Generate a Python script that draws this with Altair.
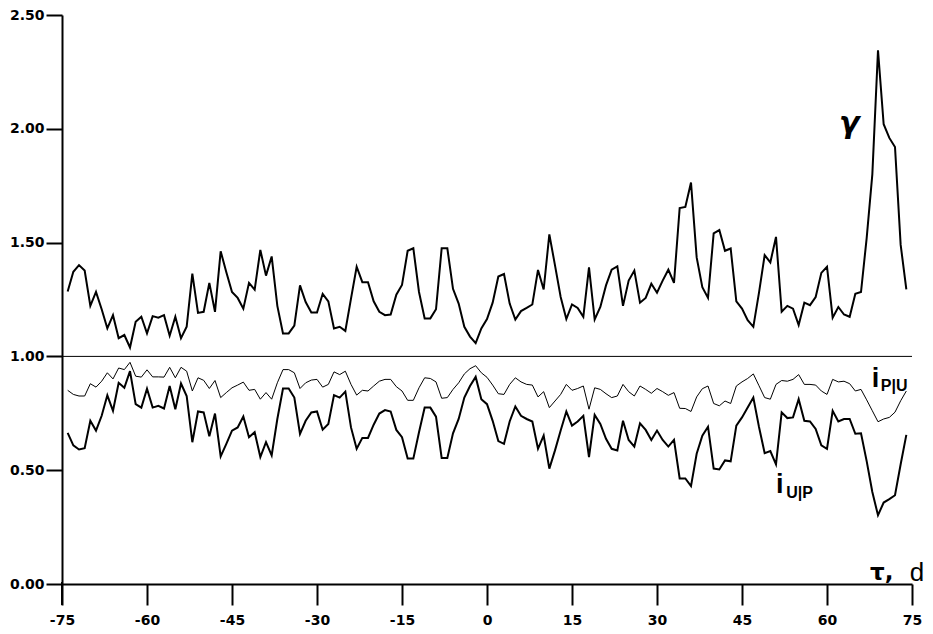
import altair as alt
import pandas as pd

days = list(range(-74, 75))

gamma = [
    1.285, 1.372, 1.401, 1.377, 1.222, 1.283, 1.207, 1.123, 1.181, 1.080,
    1.094, 1.039, 1.152, 1.174, 1.101, 1.177, 1.170, 1.181, 1.091, 1.174,
    1.080, 1.130, 1.364, 1.191, 1.196, 1.323, 1.196, 1.462, 1.370, 1.283,
    1.257, 1.210, 1.323, 1.293, 1.468, 1.355, 1.439, 1.222, 1.101, 1.101,
    1.135, 1.312, 1.239, 1.193, 1.193, 1.275, 1.242, 1.123, 1.130, 1.112,
    1.254, 1.394, 1.326, 1.326, 1.242, 1.196, 1.181, 1.184, 1.271, 1.314,
    1.464, 1.475, 1.283, 1.167, 1.167, 1.207, 1.475, 1.475, 1.297, 1.232,
    1.130, 1.087, 1.058, 1.123, 1.164, 1.236, 1.351, 1.362, 1.232, 1.162,
    1.199, 1.213, 1.228, 1.380, 1.294, 1.536, 1.400, 1.261, 1.164, 1.228,
    1.213, 1.174, 1.391, 1.162, 1.217, 1.312, 1.381, 1.396, 1.222, 1.333,
    1.377, 1.236, 1.257, 1.319, 1.280, 1.333, 1.381, 1.323, 1.652, 1.657,
    1.764, 1.435, 1.304, 1.257, 1.541, 1.555, 1.464, 1.474, 1.242, 1.210,
    1.159, 1.130, 1.280, 1.445, 1.413, 1.525, 1.196, 1.222, 1.210, 1.138,
    1.236, 1.225, 1.261, 1.367, 1.394, 1.170, 1.217, 1.184, 1.174, 1.275,
    1.283, 1.520, 1.800, 2.345, 2.020, 1.960, 1.920, 1.490, 1.295,
]

i_pu = [
    0.851, 0.833, 0.826, 0.826, 0.880, 0.865, 0.891, 0.928, 0.901, 0.949,
    0.942, 0.974, 0.913, 0.909, 0.941, 0.910, 0.910, 0.909, 0.952, 0.906,
    0.952, 0.935, 0.848, 0.906, 0.895, 0.859, 0.894, 0.819, 0.841, 0.862,
    0.874, 0.887, 0.851, 0.855, 0.812, 0.841, 0.812, 0.884, 0.942, 0.942,
    0.928, 0.859, 0.884, 0.896, 0.899, 0.865, 0.877, 0.932, 0.920, 0.935,
    0.877, 0.830, 0.851, 0.848, 0.870, 0.891, 0.899, 0.899, 0.867, 0.848,
    0.807, 0.807, 0.862, 0.906, 0.903, 0.888, 0.816, 0.819, 0.855, 0.884,
    0.923, 0.946, 0.959, 0.928, 0.908, 0.874, 0.836, 0.833, 0.877, 0.906,
    0.888, 0.877, 0.874, 0.822, 0.845, 0.775, 0.804, 0.833, 0.877, 0.851,
    0.859, 0.870, 0.768, 0.862, 0.855, 0.836, 0.819, 0.826, 0.877, 0.845,
    0.826, 0.870, 0.855, 0.838, 0.859, 0.845, 0.829, 0.841, 0.772, 0.771,
    0.758, 0.822, 0.858, 0.870, 0.793, 0.783, 0.804, 0.793, 0.870, 0.888,
    0.903, 0.923, 0.871, 0.819, 0.812, 0.877, 0.894, 0.891, 0.899, 0.920,
    0.877, 0.877, 0.874, 0.848, 0.833, 0.899, 0.888, 0.891, 0.880, 0.848,
    0.855, 0.809, 0.761, 0.713, 0.725, 0.732, 0.755, 0.805, 0.848,
]

i_up = [
    0.664, 0.609, 0.591, 0.597, 0.717, 0.674, 0.739, 0.829, 0.761, 0.884,
    0.862, 0.935, 0.790, 0.775, 0.858, 0.775, 0.783, 0.771, 0.870, 0.768,
    0.881, 0.826, 0.623, 0.758, 0.754, 0.649, 0.749, 0.561, 0.616, 0.674,
    0.688, 0.736, 0.645, 0.667, 0.558, 0.623, 0.565, 0.725, 0.859, 0.859,
    0.819, 0.659, 0.717, 0.754, 0.758, 0.678, 0.703, 0.830, 0.819, 0.845,
    0.688, 0.594, 0.642, 0.642, 0.700, 0.749, 0.764, 0.758, 0.677, 0.645,
    0.551, 0.551, 0.667, 0.775, 0.775, 0.735, 0.554, 0.554, 0.662, 0.725,
    0.819, 0.870, 0.910, 0.812, 0.790, 0.717, 0.628, 0.616, 0.714, 0.780,
    0.739, 0.725, 0.714, 0.594, 0.652, 0.507, 0.587, 0.674, 0.758, 0.696,
    0.714, 0.739, 0.558, 0.743, 0.703, 0.638, 0.594, 0.587, 0.717, 0.633,
    0.604, 0.706, 0.677, 0.633, 0.674, 0.633, 0.604, 0.633, 0.464, 0.464,
    0.430, 0.572, 0.652, 0.691, 0.507, 0.503, 0.543, 0.539, 0.696, 0.732,
    0.775, 0.819, 0.690, 0.575, 0.584, 0.526, 0.754, 0.729, 0.732, 0.812,
    0.717, 0.714, 0.681, 0.609, 0.594, 0.761, 0.714, 0.725, 0.725, 0.660,
    0.662, 0.540, 0.404, 0.302, 0.358, 0.373, 0.390, 0.526, 0.655,
]

x_ticks = list(range(-75, 76, 15))
y_ticks = [0.0, 0.5, 1.0, 1.5, 2.0, 2.5]

# annotation labels (text, x in days, y in value units)
labels_big = pd.DataFrame({
    "t": ["i", "i"],
    "x": [67.9, 51.0],
    "y": [0.865, 0.402],
})
labels_sub = pd.DataFrame({
    "t": ["P|U", "U|P"],
    "x": [69.5, 52.8],
    "y": [0.848, 0.380],
})

W, H = 850, 569
FONT = "DejaVu Sans"

df = pd.DataFrame({"d": days, "g": gamma, "pu": i_pu, "up": i_up})

xs = alt.Scale(domain=[-75, 75], nice=False, zero=False)
ys = alt.Scale(domain=[0, 2.5], nice=False, zero=False)

xaxis = alt.Axis(values=x_ticks, title=None, grid=False,
                 labelExpr="datum.value < 0 ? '-' + abs(datum.value) : '' + datum.value",
                 labelFont=FONT, labelFontWeight="bold", labelFontSize=14,
                 labelColor="black", labelFlush=False, labelPadding=8,
                 tickSize=21, tickWidth=2, tickColor="black",
                 domainWidth=2, domainColor="black", labelOverlap=False)
yaxis = alt.Axis(values=y_ticks, format=".2f", title=None, grid=False,
                 labelFont=FONT, labelFontWeight="bold", labelFontSize=14,
                 labelColor="black", labelPadding=2, labelOverlap=False,
                 tickSize=16, tickWidth=2, tickColor="black",
                 domainWidth=2, domainColor="black")

base = alt.Chart(df)

line_g = base.mark_line(color="black", strokeWidth=2).encode(
    x=alt.X("d:Q", scale=xs, axis=xaxis),
    y=alt.Y("g:Q", scale=ys, axis=yaxis),
)
line_pu = base.mark_line(color="black", strokeWidth=1).encode(
    x=alt.X("d:Q", scale=xs), y=alt.Y("pu:Q", scale=ys))
line_up = base.mark_line(color="black", strokeWidth=2).encode(
    x=alt.X("d:Q", scale=xs), y=alt.Y("up:Q", scale=ys))

one = alt.Chart(pd.DataFrame({"v": [1.0]})).mark_rule(
    color="black", strokeWidth=1).encode(y=alt.Y("v:Q", scale=ys))

yext = alt.Chart(pd.DataFrame({"v": [0.0]})).mark_rule(
    color="black", strokeWidth=2).encode(
    x=alt.value(0), y=alt.value(H - 2), y2=alt.value(H + 21))

t_big = alt.Chart(labels_big).mark_text(
    font="Liberation Sans", fontWeight="bold", fontSize=27, align="left",
    baseline="alphabetic", color="black").encode(
    x=alt.X("x:Q", scale=xs), y=alt.Y("y:Q", scale=ys), text="t:N")
t_sub = alt.Chart(labels_sub).mark_text(
    font="Liberation Sans", fontWeight="bold", fontSize=16, align="left",
    baseline="alphabetic", color="black").encode(
    x=alt.X("x:Q", scale=xs), y=alt.Y("y:Q", scale=ys), text="t:N")

t_gamma = alt.Chart(pd.DataFrame({"t": ["γ"], "x": [63.9], "y": [1.98]})).mark_text(
    font="DejaVu Sans", fontStyle="italic", fontWeight="bold", fontSize=30,
    align="center", baseline="alphabetic", color="black").encode(
    x=alt.X("x:Q", scale=xs), y=alt.Y("y:Q", scale=ys), text="t:N")

t_tau = alt.Chart(pd.DataFrame({"t": ["τ,"], "x": [67.6], "y": [0.0175]})).mark_text(
    font="DejaVu Sans", fontWeight="bold", fontSize=23,
    align="left", baseline="alphabetic", color="black").encode(
    x=alt.X("x:Q", scale=xs), y=alt.Y("y:Q", scale=ys), text="t:N")
t_d = alt.Chart(pd.DataFrame({"t": ["d"], "x": [74.6], "y": [0.013]})).mark_text(
    font="Liberation Sans", fontSize=26,
    align="left", baseline="alphabetic", color="black").encode(
    x=alt.X("x:Q", scale=xs), y=alt.Y("y:Q", scale=ys), text="t:N")

chart = alt.layer(
    one, line_pu, line_up, line_g, yext, t_big, t_sub, t_gamma, t_tau, t_d
).properties(
    width=W, height=H,
    autosize=alt.AutoSizeParams(type="none"),
    padding={"left": 54, "top": 7, "right": 13, "bottom": 44},
    background="white",
).configure_view(stroke=None)

chart.save("out.html", embed_options={"renderer": "svg", "actions": False})
